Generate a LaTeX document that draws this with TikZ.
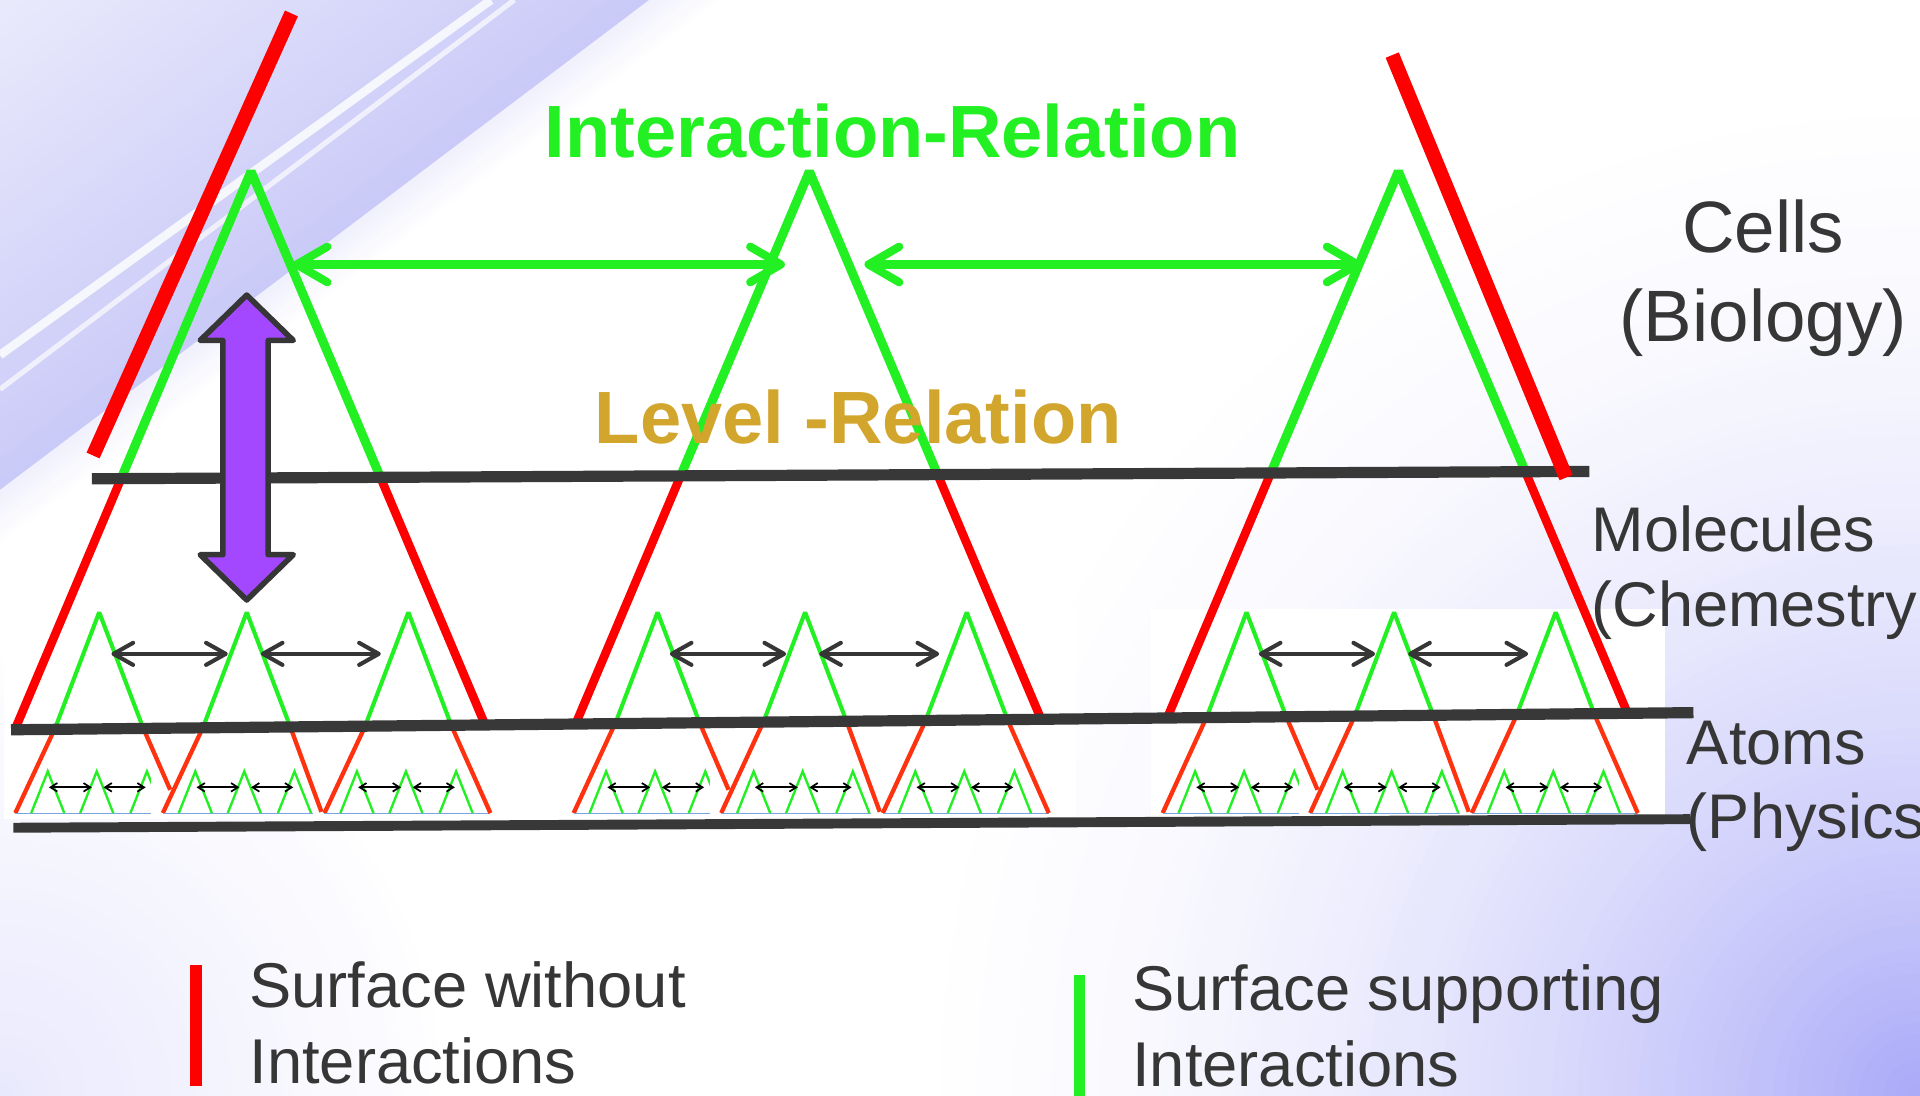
\documentclass[tikz,border=0pt]{standalone}
\usepackage{fontspec}
\setmainfont{Liberation Sans}
\usepackage{xcolor}
\usetikzlibrary{arrows.meta, calc}

\definecolor{ink}{RGB}{54,54,54}
\definecolor{lineblack}{RGB}{56,56,56}
\definecolor{okgreen}{RGB}{34,240,34}
\definecolor{nored}{RGB}{255,0,0}
\definecolor{lowred}{RGB}{255,50,15}
\definecolor{baseblue}{RGB}{120,165,225}
\definecolor{arrowpurple}{RGB}{164,72,255}
\definecolor{gold}{RGB}{210,165,45}
\definecolor{lavender}{RGB}{168,168,248}
\definecolor{bandblue}{RGB}{202,202,248}

\begin{document}
\begin{tikzpicture}[
    x=0.01cm, y=-0.01cm,
    level/.style={draw=lineblack, line width=2.6pt},
    surfok/.style={draw=okgreen, line width=2.1pt, line join=bevel},
    surfno/.style={draw=nored, line width=2pt},
    outerno/.style={draw=nored, line width=3.3pt},
    smallok/.style={draw=okgreen, line width=0.95pt, line join=bevel},
    smallno/.style={draw=lowred, line width=1pt},
    tinyok/.style={draw=okgreen, line width=0.55pt},
    basebl/.style={draw=baseblue, line width=0.3pt},
    interarrow/.style={draw=okgreen, line width=1.9pt, >={Straight Barb[length=2.5mm, width=2.9mm, round]}, <->},
    midarrow/.style={draw=ink, line width=0.95pt, >={Straight Barb[length=1.6mm, width=1.8mm, round]}, <->},
    tinyarrow/.style={draw=black, line width=0.4pt, >={Straight Barb[length=0.55mm, width=0.7mm]}, <->},
    updown/.style={fill=arrowpurple, draw=ink, line width=1.3pt, line join=round},
    title/.style={font=\fontsize{17.2pt}{20pt}\selectfont\bfseries, inner sep=0pt},
    celllbl/.style={text=ink, inner sep=0pt, font=\fontsize{16.9pt}{20.6pt}\selectfont, align=center},
    lvllbl/.style={text=ink, inner sep=0pt, font=\fontsize{14.65pt}{17.36pt}\selectfont, align=left},
    legendlbl/.style={text=ink, inner sep=0pt, font=\fontsize{14.7pt}{17.6pt}\selectfont, align=left},
    legendbar/.style={line width=2.6pt}
]
\useasboundingbox (0,0) rectangle (1568,895);

\begin{scope}
  \clip (0,0) rectangle (1568,895);
  \fill[white] (0,0) rectangle (1568,895);
  \foreach \r in {900,890,...,10} {
    \pgfmathtruncatemacro{\p}{100*(1-\r/900)^2}
    \fill[lavender!\p!white] (1568,895) circle (\r);
  }
  \foreach \r in {380,370,...,10} {
    \pgfmathtruncatemacro{\p}{26*(1-\r/380)}
    \fill[lavender!\p!white] (0,895) circle (\r);
  }
  \foreach \k in {112,111,...,1} {
    \pgfmathtruncatemacro{\p}{\k>100 ? (112-\k)*2.5 : 40+0.6*\k}
    \fill[bandblue!\p!white] (0,0) -- (5.3*\k,0) -- (0,4*\k) -- cycle;
  }
  \draw[white, line width=2pt, opacity=.8] (401,0) -- (0,290);
  \draw[white, line width=1.2pt, opacity=.7] (420,0) -- (0,318);
\end{scope}

\foreach \X in {205, 661, 1142}
  \fill[white] (\X-202,497) rectangle (\X+218,668);

\foreach \X/\ya/\yb [count=\i] in {205/390/594, 661/388/589, 1142/386/585} {
  \coordinate (cell\i) at (\X,140);
  \pgfmathsetmacro{\da}{0.423*(\ya-140)}
  \pgfmathsetmacro{\db}{0.423*(\yb-140)}
  \draw[surfok] (\X-\da,\ya) -- (cell\i) -- (\X+\da,\ya);
  \draw[surfno] (\X-\da,\ya) -- (\X-\db,\yb);
  \draw[surfno] (\X+\da,\ya) -- (\X+\db,\yb);
  \foreach \dx in {-124, -3.5, 128.5} {
    \pgfmathsetmacro{\a}{\X+\dx}
    \pgfmathsetmacro{\h}{0.38*(\yb-500)}
    \draw[smallok] (\a-\h,\yb) -- (\a,500) -- (\a+\h,\yb);
  }
  \draw[midarrow] (\X-114,534) -- (\X-19,534);
  \draw[midarrow] (\X+8,534) -- (\X+106,534);
  \foreach \dx in {-124, -3.5, 128.5} {
    \pgfmathsetmacro{\a}{\X+\dx}
    \pgfmathsetmacro{\h}{0.38*(\yb-500)}
    \fill[white] (\a-78,\yb+5) rectangle (\a+70,669);
    \draw[smallno] (\a-\h,\yb) -- (\a-68.5,664);
    \draw[basebl] (\a-68.5,664.5) -- (\a+67,664.5);
    \foreach \t in {-42, -2, 39}
      \draw[tinyok] (\a+\t-13.5,664) -- (\a+\t,630) -- (\a+\t+13.5,664);
    \draw[tinyarrow] (\a-41,643) -- (\a-6,643);
    \draw[tinyarrow] (\a+3.5,643) -- (\a+38,643);
  }
  \foreach \dx/\rx/\ry in {-124/58/645, -3.5/61/663, 128.5/67/664} {
    \pgfmathsetmacro{\a}{\X+\dx}
    \pgfmathsetmacro{\h}{0.38*(\yb-500)}
    \draw[smallno] (\a+\h,\yb) -- (\a+\rx,\ry);
  }
}

\draw[level] (75,391) -- (1298,385);
\draw[level] (9,596) -- (1383,582);
\draw[level, line width=2.3pt] (11,676) -- (1380,669);

\draw[outerno] (238,11) -- (76,372);
\draw[outerno] (1137,45) -- (1279,390);

\draw[updown] (201.5,241) -- (239.5,278) -- (219,278) -- (219,453) -- (239.5,453) -- (201.5,490) -- (163.5,453) -- (182,453) -- (182,278) -- (163.5,278) -- cycle;

\coordinate (cellAr) at (239,216);
\coordinate (cellBl) at (641,216);
\coordinate (cellBr) at (706,216);
\coordinate (cellCl) at (1112,216);
\draw[interarrow] (cellAr) -- (cellBl);
\draw[interarrow] (cellBr) -- (cellCl);

\node[title, text=okgreen, anchor=base] (inter) at (729,128.5) {Interaction-Relation};
\node[title, text=gold, anchor=base] (levelrel) at (701,362) {Level -Relation};
\node[celllbl, anchor=base] (cells) at (1440,279) {Cells\\(Biology)};
\node[lvllbl, anchor=base west] (molecules) at (1299,511.6) {Molecules\\(Chemestry};
\node[lvllbl, anchor=base west] (atoms) at (1377,685) {Atoms\\(Physics};

\draw[legendbar, draw=nored] (160,788) -- (160,887);
\node[legendlbl, anchor=base west] (without) at (203,884.7) {Surface without\\Interactions};
\draw[legendbar, draw=okgreen] (881.5,796) -- (881.5,895);
\node[legendlbl, anchor=base west] (supporting) at (924,887.5) {Surface supporting\\Interactions};
\end{tikzpicture}
\end{document}
